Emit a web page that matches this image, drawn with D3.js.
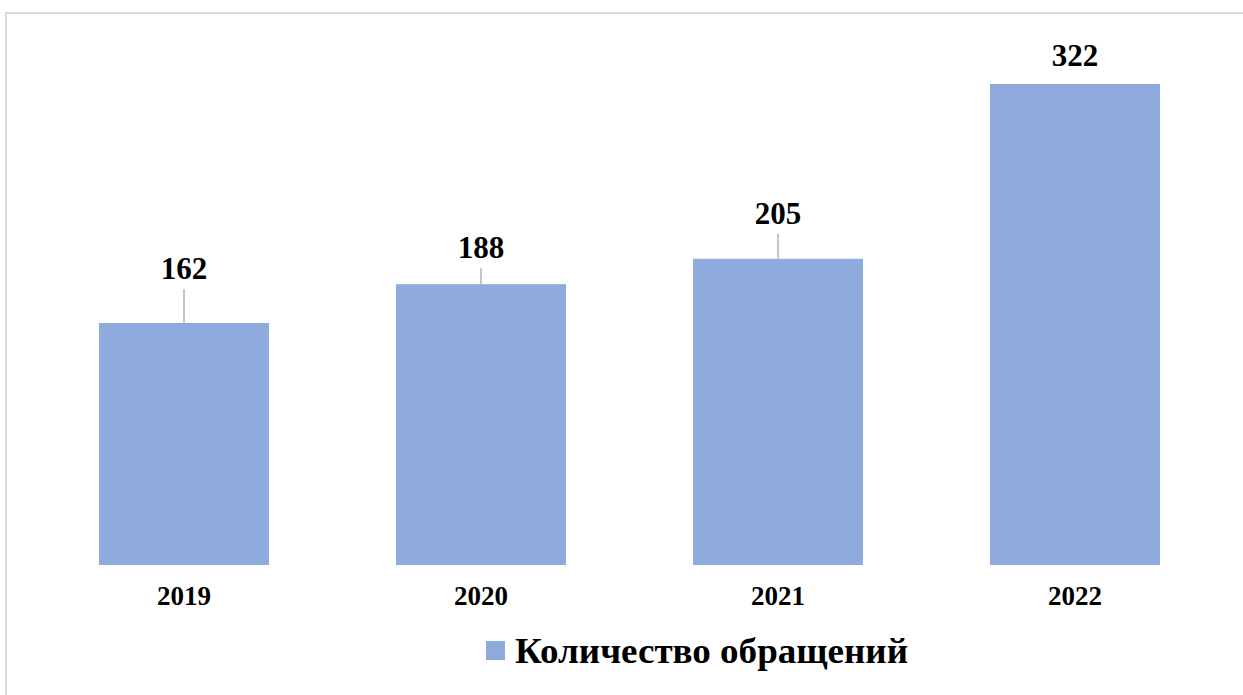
<!DOCTYPE html>
<html><head><meta charset="utf-8">
<script src="https://cdn.jsdelivr.net/npm/d3@7"></script>
<style>html,body{margin:0;padding:0;background:#fff;}
.serif{font-family:"Liberation Serif","Times New Roman","DejaVu Serif",serif;font-weight:bold;}</style>
</head><body>
<script>
const categories = ["2019", "2020", "2021", "2022"];
const values = [162, 188, 205, 322];
const seriesName = "Количество обращений";
// label lift above bar top (layout, px)
const labelLift = [55, 37, 46, 29];

const W = 1243, H = 695;
const svg = d3.select("body").append("svg").attr("width", W).attr("height", H);
svg.append("rect").attr("width", W).attr("height", H).attr("fill", "#fff");
svg.append("path").attr("d", "M6,700 L6,13 L1250,13").attr("fill", "none")
  .attr("stroke", "#d9d9d9").attr("stroke-width", 2);

const x = d3.scaleBand().domain(categories).range([35.5, 1223.5])
  .paddingInner(127/297).paddingOuter(127/594);
const y = d3.scaleLinear().domain([0, 322]).range([565, 84]);
const color = "#8faadc";

svg.selectAll("rect.bar").data(values).join("rect").attr("class", "bar")
  .attr("x", (d, i) => x(categories[i])).attr("width", x.bandwidth())
  .attr("y", d => y(d)).attr("height", d => y(0) - y(d)).attr("fill", color);

values.forEach((v, i) => {
  const cx = x(categories[i]) + x.bandwidth() / 2;
  const ly = y(v) - labelLift[i];
  if (y(v) - (ly + 21) > 10) {
    svg.append("line").attr("x1", cx).attr("x2", cx).attr("y1", ly + 21).attr("y2", y(v))
      .attr("stroke", "#a6a6a6").attr("stroke-width", 1.3);
  }
  svg.append("text").attr("class", "serif").attr("x", cx).attr("y", ly + 11).attr("text-anchor", "middle")
    .style("font-size", "31px").attr("fill", "#000").text(v);
});

const xAxis = d3.axisBottom(x).tickSize(0).tickPadding(0);
const gx = svg.append("g").attr("transform", "translate(0,565)").call(xAxis);
gx.select(".domain").remove();
gx.selectAll("text").attr("class", "serif").style("font-size", "27px")
  .attr("fill", "#000").attr("dy", null).attr("y", 40);
gx.attr("font-family", null).attr("font-size", null);

svg.append("rect").attr("x", 486).attr("y", 641).attr("width", 19).attr("height", 19).attr("fill", color);
svg.append("text").attr("class", "serif").attr("x", 515).attr("y", 663)
  .style("font-size", "35px").attr("textLength", 393).attr("lengthAdjust", "spacingAndGlyphs")
  .attr("fill", "#000").text(seriesName);
</script>
</body></html>
